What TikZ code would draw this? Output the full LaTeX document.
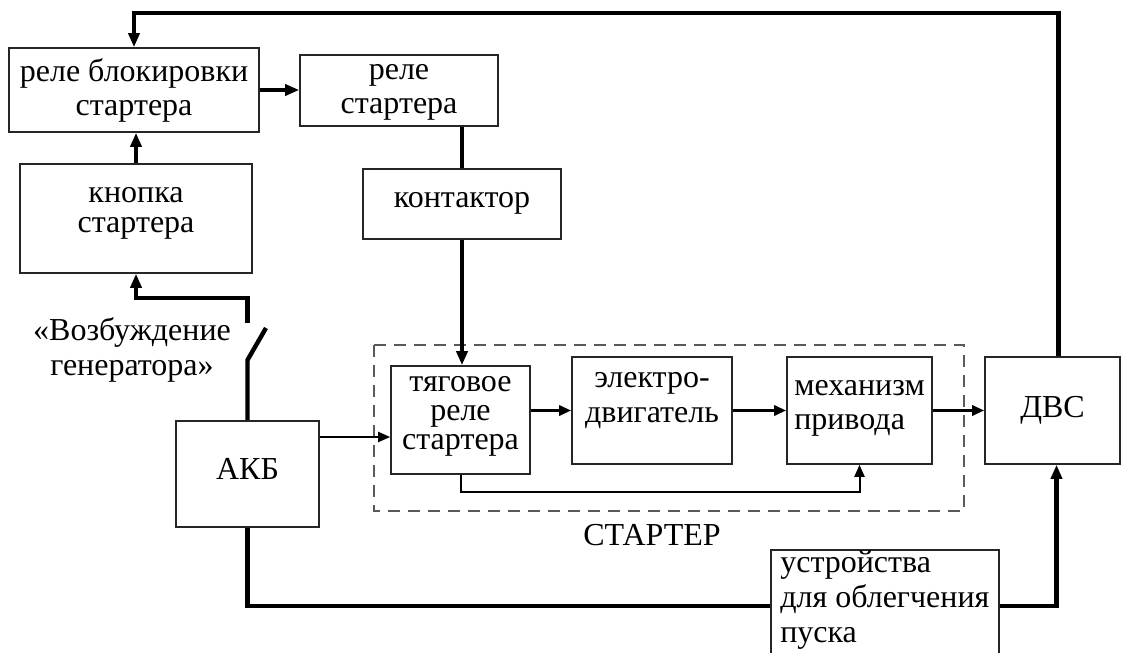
\documentclass[tikz,border=0pt]{standalone}
\usepackage{fontspec}
\setmainfont{Liberation Serif}
\usetikzlibrary{arrows.meta}

\begin{document}
\begin{tikzpicture}[
    x=0.5pt, y=-0.5pt,
    font=\fontsize{16}{17}\selectfont,
    block/.style={rectangle, draw=black!85, line width=0.8pt, align=center, inner sep=1pt},
    lift/.style={text depth=#1},
    wire/.style={line width=2.2pt, black},
    arrow/.style={wire, -{Triangle[length=7pt, width=5.5pt]}},
    thin arrow/.style={line width=1pt, -{Triangle[length=6pt, width=5pt]}},
    link/.style={line width=1.6pt, -{Triangle[length=6pt, width=5pt]}},
    group/.style={draw=black!65, line width=1pt, dash pattern=on 6pt off 4pt}
]
\useasboundingbox (0,0) rectangle (1125,653);

% Реле и кнопка
\node[block, minimum width=125pt, minimum height=42pt] (blk) at (134,90) {реле блокировки\\стартера};
\node[block, lift=2pt, minimum width=99pt, minimum height=35.5pt] (rst) at (399,90.5) {реле\\стартера};
\node[block, lift=8.5pt, minimum width=116pt, minimum height=54.5pt, font=\fontsize{16}{15}\selectfont] (knp) at (136,218.5) {кнопка\\стартера};
\node[block, lift=4.5pt, minimum width=99pt, minimum height=35pt] (kont) at (462,204) {контактор};
\node[align=center, font=\fontsize{16}{17.5}\selectfont] (gen) at (132,350) {«Возбуждение\\генератора»};

% Стартер
\draw[group] (374,345) rectangle (964,511);
\node[block, lift=7.5pt, minimum width=69.5pt, minimum height=54pt, font=\fontsize{16}{14.5}\selectfont] (tyag) at (460.5,420) {тяговое\\реле\\стартера};
\node[block, lift=13.5pt, minimum width=80pt, minimum height=53.5pt, font=\fontsize{16}{17.5}\selectfont] (motor) at (652,410.5) {электро-\\двигатель};
\node[block, lift=5.5pt, align=left, minimum width=72.5pt, minimum height=53.5pt] (mech) at (859.5,410.5) {механизм\\привода};
\node (starter) at (652,535) {СТАРТЕР};

% Двигатель, батарея
\node[block, minimum width=67.5pt, minimum height=53.5pt] (dvs) at (1052.5,410.5) {ДВС};
\node[block, lift=5pt, minimum width=71.5pt, minimum height=53pt] (akb) at (247.5,474) {АКБ};
\node[block, lift=9pt, anchor=north west, align=left, minimum width=114pt, inner xsep=2pt, inner ysep=0.5pt, font=\fontsize{16}{17.5}\selectfont] (ustr) at (770,549) {устройства\\для облегчения\\пуска};

% Цепи управления
\coordinate (topline) at (600,13);
\coordinate (swtop) at (247.5,323);
\coordinate (swbend) at (247.5,298);
\coordinate (swpivot) at (247.5,360);
\coordinate (swblade) at (266,328);
\coordinate (tyagin) at ([yshift=-8.5pt]tyag.west);
\coordinate (ustrin) at (770,606);

\draw[arrow] ([xshift=3pt]dvs.north) |- (blk.north |- topline) -- (blk.north);
\draw[arrow] (knp.north) -- (knp.north |- blk.south);
\draw[arrow] (blk.east) -- (blk.east -| rst.west);
\draw[wire] (kont.north |- rst.south) -- (kont.north);
\draw[arrow] (kont.south) -- (kont.south |- tyag.north);
\draw[arrow] (swtop) -- (swbend) -| (knp.south);
\draw[wire] (akb.north) -- (swpivot) -- (swblade);

% Силовые цепи
\draw[thin arrow] (tyagin -| akb.east) -- (tyagin);
\draw[link] (tyag.east |- motor.west) -- (motor.west);
\draw[link] (motor.east) -- (mech.west);
\draw[link] (mech.east) -- (dvs.west);
\draw[thin arrow] (tyag.south) -- ++(0,17) -| (mech.south);
\draw[wire] (akb.south) |- (ustrin -| ustr.west);
\draw[arrow] (ustrin -| ustr.east) -| ([xshift=2pt]dvs.south);

\end{tikzpicture}
\end{document}
